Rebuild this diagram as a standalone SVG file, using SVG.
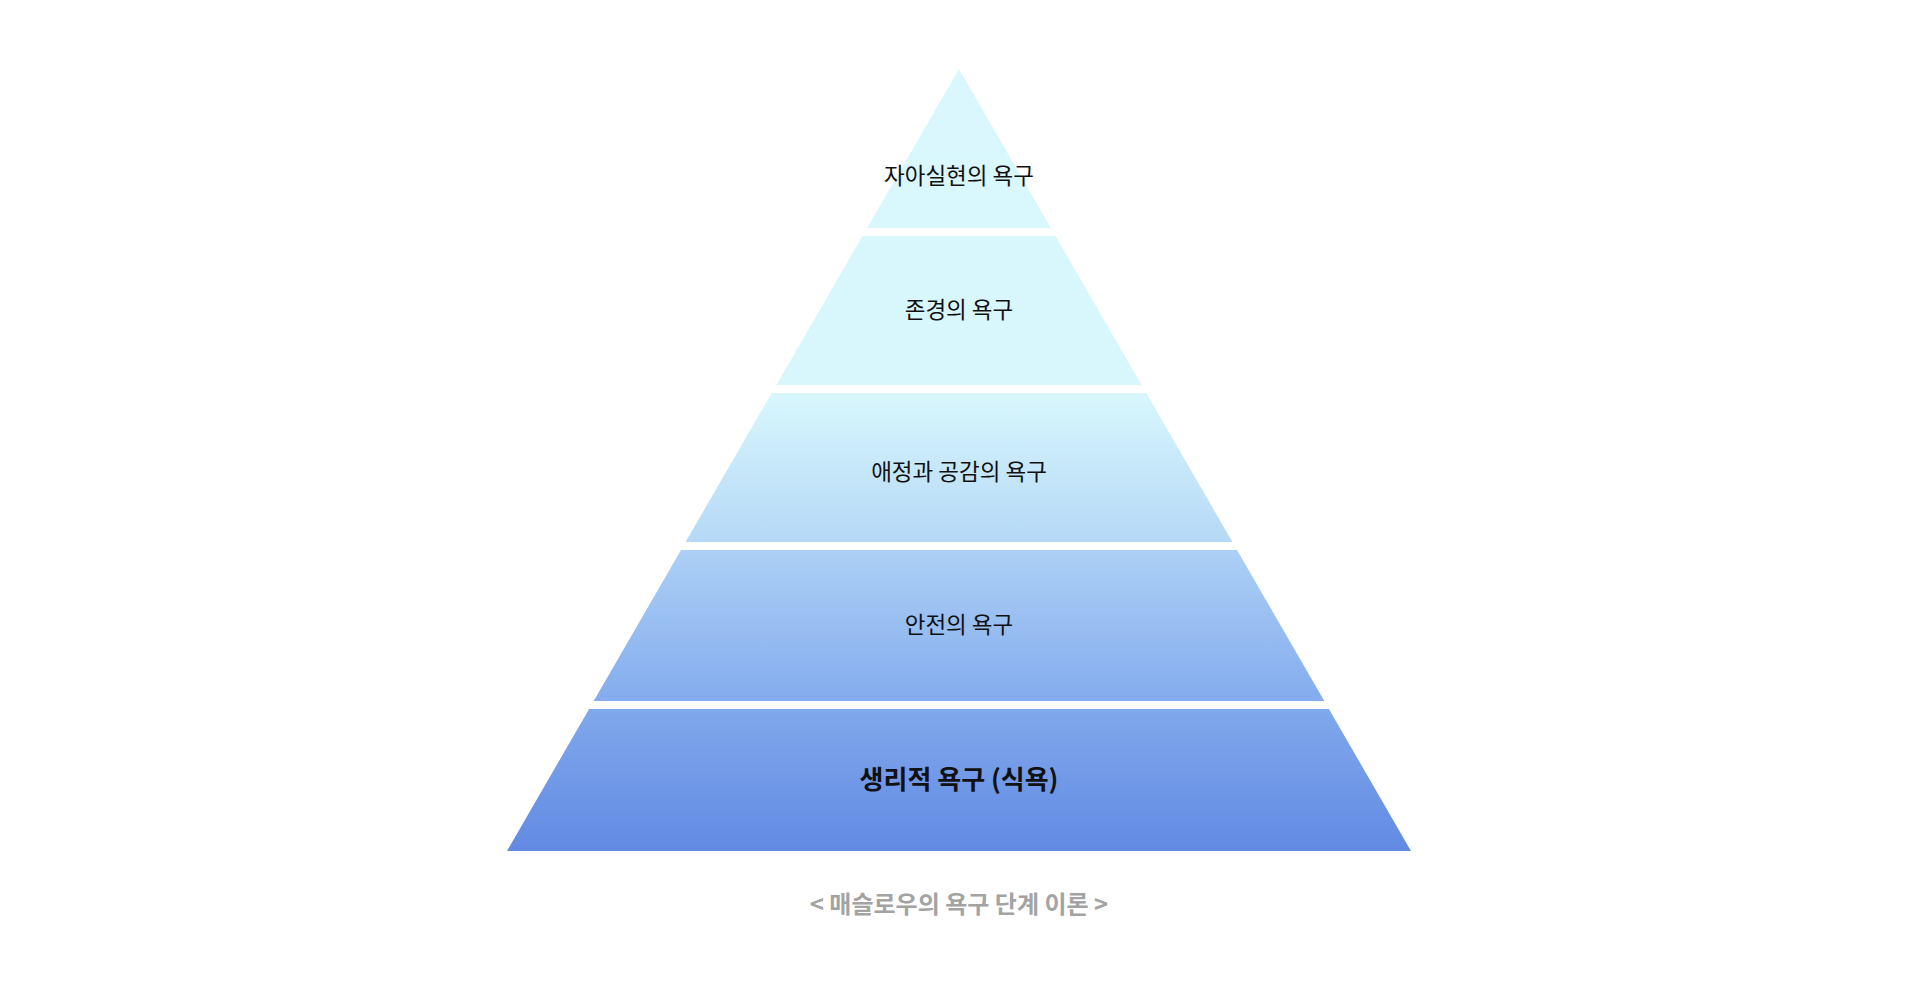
<svg xmlns="http://www.w3.org/2000/svg" width="1919" height="985" viewBox="0 0 1919 985">
  <defs>
    <linearGradient id="pyr" gradientUnits="userSpaceOnUse" x1="0" y1="69" x2="0" y2="851">
      <stop offset="0" stop-color="#d9f7fd"/>
      <stop offset="0.414" stop-color="#d8f7fd"/>
      <stop offset="0.605" stop-color="#b5d8f6"/>
      <stop offset="0.615" stop-color="#acd0f5"/>
      <stop offset="0.808" stop-color="#84acee"/>
      <stop offset="0.818" stop-color="#80a8ec"/>
      <stop offset="1" stop-color="#628ae3"/>
    </linearGradient>
    <style>
      .tier { fill: url(#pyr); }
      .lbl { font-family: "Noto Sans CJK KR", "Noto Sans", sans-serif; font-size: 22.5px; fill: #111111; text-anchor: middle; }
      .bold { font-size: 26px; font-weight: 700; }
      .cap { font-family: "Noto Sans CJK KR", "Noto Sans", sans-serif; font-size: 24px; font-weight: 700; fill: #a3a3a3; text-anchor: middle; }
    </style>
  </defs>
  <rect x="0" y="0" width="1919" height="985" fill="#ffffff"/>
  <g id="tier1">
    <polygon class="tier" points="959,69 1050.9,228 867.1,228"/>
    <text class="lbl" x="959" y="184">자아실현의 욕구</text>
  </g>
  <g id="tier2">
    <polygon class="tier" points="862.5,236 1055.5,236 1141.6,385 776.4,385"/>
    <text class="lbl" x="959" y="318">존경의 욕구</text>
  </g>
  <g id="tier3">
    <polygon class="tier" points="771.7,393 1146.3,393 1232.4,542 685.6,542"/>
    <text class="lbl" x="959" y="480">애정과 공감의 욕구</text>
  </g>
  <g id="tier4">
    <polygon class="tier" points="681,550 1237,550 1324.3,701 593.7,701"/>
    <text class="lbl" x="959" y="633">안전의 욕구</text>
  </g>
  <g id="tier5">
    <polygon class="tier" points="589.1,709 1328.9,709 1411,851 507,851"/>
    <text class="lbl bold" x="959" y="789">생리적 욕구 (식욕)</text>
  </g>
  <g id="connectors"></g>
  <g id="caption">
    <text class="cap" x="959" y="913">&lt; 매슬로우의 욕구 단계 이론 &gt;</text>
  </g>
</svg>
